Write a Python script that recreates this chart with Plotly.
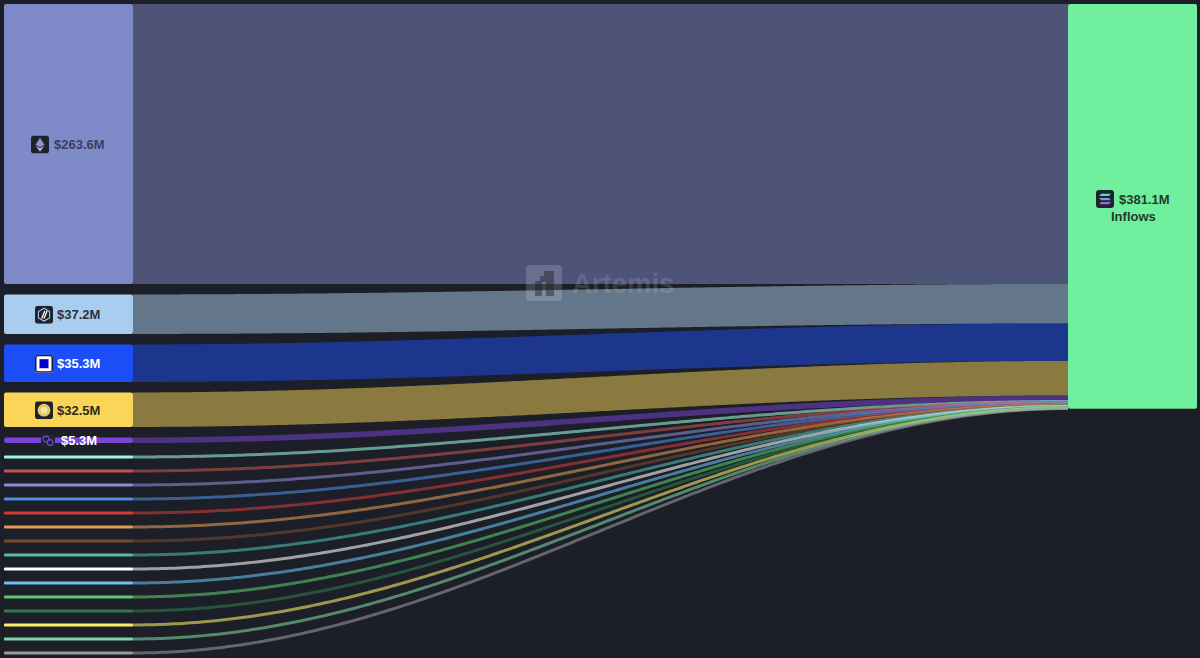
"""Solana inflows by source chain, drawn as a sankey on hidden axes: bars for the chains,
filled bands for the flows. x axis is in pixels, y axis is in $M so band widths are the values."""
import base64
import numpy as np
import plotly.graph_objects as go

W, H = 1200, 658
BG = "#1c1f27"

SOURCES = ["Ethereum", "Arbitrum", "Base", "BSC", "Polygon",
           "Chain 6", "Chain 7", "Chain 8", "Chain 9", "Chain 10", "Chain 11", "Chain 12", "Chain 13",
           "Chain 14", "Chain 15", "Chain 16", "Chain 17", "Chain 18", "Chain 19", "Chain 20"]
INFLOWS = [263.6, 37.2, 35.3, 32.5, 5.3,
           0.8, 0.8, 0.7, 0.6, 0.6, 0.5, 0.5, 0.4, 0.4, 0.4, 0.3, 0.3, 0.3, 0.3, 0.3]
COLORS = ["#7f8ac9", "#a9cdee", "#1b4ef6", "#f9d657", "#7b45d9",
          "#9ef7df", "#c4544f", "#8f8bd6", "#4e8fe6", "#d13a38", "#e19b52", "#7a4a2c", "#4fbdb0",
          "#ffffff", "#69c2f2", "#5bcb6e", "#2f7a4e", "#f9ef6a", "#7fd6a0", "#9a9aa0"]
TARGET_COLOR = "#70f09e"
TOTAL_LABEL = "$381.1M"
LABELS = ["$263.6M", "$37.2M", "$35.3M", "$32.5M", "$5.3M"]
LABEL_COLORS = ["#3a3f5e", "#2b3040", "#ffffff", "#2e2a1c", "#ffffff"]
FONT = "Liberation Sans"

# geometry, in pixels
TOP = 4
PX_PER_M = 1.062
LEFT_X, RIGHT_X, BAR_W = 4, 1068, 129
GAP = 10.5
THIN_FIRST, THIN_STEP, THIN_H = 16.7, 14, 3
N_BIG = 5
CTRL = 0.36  # bezier control point distance, share of the flow length
LABEL_DY = 0.5


def rgba(c, a):
    return "rgba(%d,%d,%d,%s)" % (int(c[1:3], 16), int(c[3:5], 16), int(c[5:7], 16), a)


def svg(body, size=24):
    s = "<svg xmlns='http://www.w3.org/2000/svg' viewBox='0 0 %d %d'>%s</svg>" % (size, size, body)
    return "data:image/svg+xml;base64," + base64.b64encode(s.encode()).decode()


def curve(x0, y0, x1, y1, n=240):
    t = np.linspace(0, 1, n)
    ca, cb = x0 + CTRL * (x1 - x0), x1 - CTRL * (x1 - x0)
    x = (1 - t) ** 3 * x0 + 3 * (1 - t) ** 2 * t * ca + 3 * (1 - t) * t ** 2 * cb + t ** 3 * x1
    y = (1 - t) ** 3 * y0 + 3 * (1 - t) ** 2 * t * y0 + 3 * (1 - t) * t ** 2 * y1 + t ** 3 * y1
    return x, y


# stack in $M: centre of each source bar, and where its flow lands on the target
centers, y = [], 0.0
for i, v in enumerate(INFLOWS):
    if i < N_BIG:
        centers.append(y + v / 2)
        y += v + GAP / PX_PER_M
    else:
        step = THIN_FIRST if i == N_BIG else THIN_STEP
        centers.append(centers[-1] + step / PX_PER_M)
total = sum(INFLOWS)
ends = np.cumsum([0] + INFLOWS[:-1]) + np.array(INFLOWS) / 2

fig = go.Figure()
x0, x1 = LEFT_X + BAR_W, RIGHT_X
for i, v in enumerate(INFLOWS):
    xs, ys = curve(x0, centers[i], x1, ends[i])
    if i < N_BIG:
        band_x = np.r_[xs, xs[::-1]]
        band_y = np.r_[ys - v / 2, (ys + v / 2)[::-1]]
        fig.add_scatter(x=band_x, y=band_y, mode="lines", fill="toself", fillcolor=rgba(COLORS[i], 0.5),
                        line=dict(width=0, simplify=False), hoverinfo="skip", name=SOURCES[i])
    else:
        fig.add_scatter(x=xs, y=ys, mode="lines", line=dict(color=rgba(COLORS[i], 0.58), width=THIN_H, simplify=False),
                        hoverinfo="skip", name=SOURCES[i])

heights = [v if i < N_BIG else THIN_H / PX_PER_M for i, v in enumerate(INFLOWS)]
fig.add_bar(orientation="h", y=centers, x=[BAR_W] * len(INFLOWS), base=LEFT_X, width=heights,
            marker=dict(color=COLORS, line=dict(width=0)), text=SOURCES, textposition="none", hoverinfo="text")
fig.add_bar(orientation="h", y=[total / 2], x=[BAR_W], base=RIGHT_X, width=[total],
            marker=dict(color=TARGET_COLOR, line=dict(width=0)), hoverinfo="skip")

# icons, as small inline svgs
ICON_BG = "<rect width='24' height='24' rx='4' fill='#1f2330'/>"
ICONS = [
    ICON_BG + "<path d='M12 3l6 9.5-6 3.5-6-3.5z' fill='#8d95c9'/><path d='M12 17.5l6-3.6-6 7.6-6-7.6z' fill='#c5cae6'/>",
    ICON_BG + "<path d='M12 3.5l7.5 4.3v8.4L12 20.5l-7.5-4.3V7.8z' fill='none' stroke='#a9cdee' stroke-width='1.4'/>"
              "<path d='M9 17l4-10M12 17l4-10' stroke='#fff' stroke-width='1.8'/>",
    "<rect width='24' height='24' rx='3' fill='#ffffff'/><rect x='1' y='1' width='22' height='22' rx='3' fill='none' stroke='#1c1f27' stroke-width='2'/>"
    "<rect x='6' y='6' width='12' height='12' fill='#0000c8'/>",
    ICON_BG + "<circle cx='12' cy='12' r='8.5' fill='#e6c765'/><circle cx='12' cy='12' r='4.5' fill='#f5e4a2'/>",
    "<rect width='24' height='24' rx='4' fill='#1f2330'/><circle cx='8.5' cy='9' r='5' fill='none' stroke='#7b45d9' stroke-width='1.8'/>"
    "<circle cx='15.5' cy='15' r='5' fill='none' stroke='#7b45d9' stroke-width='1.8'/>",
]
SOL_ICON = ("<defs><linearGradient id='g' x1='0' y1='0' x2='0' y2='1'><stop offset='0' stop-color='#5fe3c0'/>"
            "<stop offset='1' stop-color='#a855e8'/></linearGradient></defs>" + ICON_BG +
            "<path d='M7 5h13l-3 3H4zM4 10.5h13l3 3H7zM7 16h13l-3 3H4z' fill='url(#g)'/>")
MARK = ("<rect width='36' height='36' rx='4' fill='#ffffff' fill-opacity='0.16'/>"
        "<path d='M9 31V16h5v-5h4V6h10v25h-8V17h-4v14z' fill='#1c1f27' fill-opacity='0.45'/>")
ICON_X = [31, 35, 35, 35, 41]
ICON_SIZE = [18, 18, 18, 18, 14]
TEXT_X = [52, 55, 55, 55, 59]


def icon(source, x, cy, size):
    # cy is in $M on the y axis, size in pixels
    return dict(source=source, xref="x", yref="y", x=x, y=cy - size / 2 / PX_PER_M, sizex=size, sizey=size / PX_PER_M,
                xanchor="left", yanchor="top", sizing="stretch", layer="above")


def label(text, x, cy, color, anchor="left", size=13):
    return dict(text="<b>%s</b>" % text, xref="x", yref="y", x=x, y=cy, xanchor=anchor, yanchor="middle",
                showarrow=False, font=dict(family=FONT, size=size, color=color))


images, annotations = [], []
for i, text in enumerate(LABELS):
    cy = centers[i] + LABEL_DY / PX_PER_M
    images.append(icon(svg(ICONS[i]), ICON_X[i], cy, ICON_SIZE[i]))
    annotations.append(label(text, TEXT_X[i], cy, LABEL_COLORS[i]))

cy = (199 - TOP) / PX_PER_M
images.append(icon(svg(SOL_ICON), 1096, cy, 18))
annotations.append(label(TOTAL_LABEL, 1117, cy, "#1f3a2c"))
annotations.append(label("Inflows", 1133, (216 - TOP) / PX_PER_M, "#1f3a2c", "center"))

# watermark
cy = (283 - TOP) / PX_PER_M
images.append(icon(svg(MARK, 36), 526, cy, 36))
annotations.append(label("Artemis", 570, cy, "rgba(255,255,255,0.14)", size=27.5))

fig.update_layout(width=W, height=H, margin=dict(l=0, r=0, t=0, b=0, pad=0), paper_bgcolor=BG, plot_bgcolor=BG,
                  images=images, annotations=annotations, showlegend=False, barmode="overlay", barcornerradius=2,
                  xaxis=dict(range=[0, W], visible=False),
                  yaxis=dict(range=[(H - TOP) / PX_PER_M, -TOP / PX_PER_M], visible=False))
fig.write_html("out.html", config={"displayModeBar": False}, post_script="document.body.style.margin='0';")
